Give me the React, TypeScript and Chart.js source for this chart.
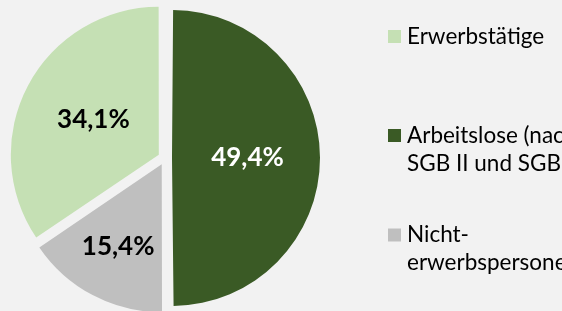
import React, { useEffect, useRef } from "react";
import { Chart, registerables } from "chart.js";

Chart.register(...registerables);

// ---- data ----
const categories: string[][] = [
  ["Erwerbstätige"],
  ["Arbeitslose (nach", "SGB II und SGB III)"],
  ["Nicht-", "erwerbspersonen"],
];
const shares: number[] = [34.1, 49.4, 15.4];
const valueLabels: string[] = ["34,1%", "49,4%", "15,4%"];

// ---- style ----
const sliceColors = ["#c5e0b4", "#3a5a25", "#bfbfbf"];
const valueLabelColors = ["#000000", "#ffffff", "#000000"];
const labelRadiusFactors = [0.5, 0.51, 0.63];
const BG = "#f2f2f2";
const OFFSET = 28; // Chart.js shifts a slice by offset / 4
const RADIUS = 148;
const FONT = "Lato, 'Open Sans', sans-serif";
const LEGEND_BOX_X = 388;
const LEGEND_BOX = 13;
const LEGEND_TEXT_X = 407;
const LEGEND_ROW_Y = [36.5, 135.5, 235];
const LEGEND_LINE = 28;

const total = shares.reduce((a, b) => a + b, 0);

const pieExtras = {
  id: "pieExtras",
  beforeDatasetsDraw(chart: any) {
    const meta = chart.getDatasetMeta(0);
    meta.data.forEach((arc: any) => {
      const circ = arc.endAngle - arc.startAngle;
      const fix = 1 - Math.sin(Math.min(Math.PI, circ));
      arc.outerRadius = RADIUS - (OFFSET / 4) * fix;
    });
  },
  afterDatasetsDraw(chart: any) {
    const ctx: CanvasRenderingContext2D = chart.ctx;
    const meta = chart.getDatasetMeta(0);
    meta.data.forEach((arc: any, i: number) => {
      const mid = (arc.startAngle + arc.endAngle) / 2;
      const r = OFFSET / 4 + RADIUS * labelRadiusFactors[i];
      const x = arc.x + Math.cos(mid) * r;
      const y = arc.y + Math.sin(mid) * r;
      ctx.save();
      ctx.font = `bold 26px ${FONT}`;
      ctx.fillStyle = valueLabelColors[i];
      ctx.textAlign = "center";
      ctx.textBaseline = "middle";
      ctx.fillText(valueLabels[i], x, y);
      ctx.restore();
    });
  },
  afterDraw(chart: any) {
    const ctx: CanvasRenderingContext2D = chart.ctx;
    const labels: string[][] = chart.data.labels;
    const colors: string[] = chart.data.datasets[0].backgroundColor;
    ctx.save();
    ctx.font = `22.5px ${FONT}`;
    ctx.textAlign = "left";
    ctx.textBaseline = "middle";
    labels.forEach((lines, i) => {
      const y0 = LEGEND_ROW_Y[i];
      ctx.fillStyle = colors[i];
      ctx.fillRect(LEGEND_BOX_X, y0 - LEGEND_BOX / 2, LEGEND_BOX, LEGEND_BOX);
      ctx.fillStyle = "#000000";
      lines.forEach((line, j) => {
        ctx.fillText(line, LEGEND_TEXT_X, y0 + j * LEGEND_LINE);
      });
    });
    ctx.restore();
  },
};

export default function App() {
  const canvasRef = useRef<HTMLCanvasElement | null>(null);

  useEffect(() => {
    const canvas = canvasRef.current;
    if (!canvas) return;
    const chart = new Chart(canvas, {
      type: "pie",
      data: {
        labels: categories,
        datasets: [
          {
            data: shares,
            backgroundColor: sliceColors,
            borderWidth: 0,
            offset: OFFSET,
            hoverOffset: OFFSET,
          },
        ],
      },
      options: {
        responsive: false,
        animation: false,
        events: [],
        rotation: (-360 * shares[0]) / total,
        radius: RADIUS,
        layout: { padding: { left: 0, right: 232, top: 5, bottom: 0 } },
        plugins: {
          legend: { display: false },
          tooltip: { enabled: false },
        },
      } as any,
      plugins: [pieExtras],
    });
    return () => chart.destroy();
  }, []);

  return (
    <div
      style={{
        position: "fixed",
        left: 0,
        top: 0,
        width: 562,
        height: 311,
        background: BG,
        overflow: "hidden",
      }}
    >
      <canvas
        ref={canvasRef}
        width={562}
        height={311}
        style={{ display: "block", width: 562, height: 311 }}
      />
    </div>
  );
}
